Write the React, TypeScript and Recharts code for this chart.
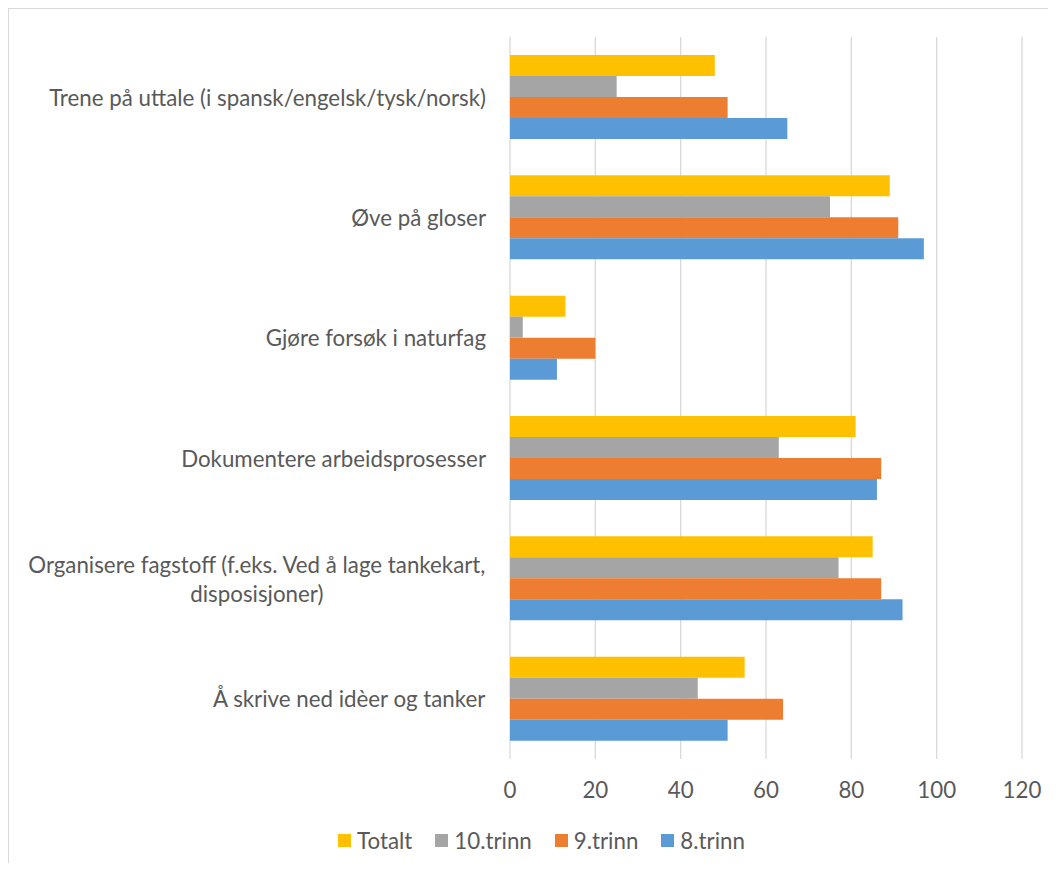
import React from 'react';
import { BarChart, Bar, XAxis, YAxis, CartesianGrid, Legend } from 'recharts';

// Activities (top to bottom) and share of pupils per grade
const categories = [
  'Trene på uttale (i spansk/engelsk/tysk/norsk)',
  'Øve på gloser',
  'Gjøre forsøk i naturfag',
  'Dokumentere arbeidsprosesser',
  'Organisere fagstoff (f.eks. Ved å lage tankekart,\ndisposisjoner)',
  'Å skrive ned idèer og tanker',
];
const totalt = [48, 89, 13, 81, 85, 55];
const trinn10 = [25, 75, 3, 63, 77, 44];
const trinn9 = [51, 91, 20, 87, 87, 64];
const trinn8 = [65, 97, 11, 86, 92, 51];
const xTicks = [0, 20, 40, 60, 80, 100, 120];

const seriesKeys = ['totalt', 'trinn10', 'trinn9', 'trinn8'];
const seriesNames = ['Totalt', '10.trinn', '9.trinn', '8.trinn'];
const seriesColors = ['#FFC000', '#A5A5A5', '#ED7D31', '#5B9BD5'];

const data = categories.map((name, i) => ({
  name,
  totalt: totalt[i],
  trinn10: trinn10[i],
  trinn9: trinn9[i],
  trinn8: trinn8[i],
}));

const FONT = 'Lato, "Noto Sans", sans-serif';
const FONT_SIZE = 22.3;
const TEXT = '#595959';

let ctx: CanvasRenderingContext2D | null = null;
function measure(s: string): number {
  if (!ctx) {
    const c = document.createElement('canvas');
    ctx = c.getContext('2d');
  }
  if (!ctx) return s.length * FONT_SIZE * 0.45;
  ctx.font = `${FONT_SIZE}px Lato, "Noto Sans", sans-serif`;
  return ctx.measureText(s).width;
}

function CategoryTick(props: any) {
  const { x, y, payload } = props;
  const lines = String(payload.value).split('\n');
  const block = Math.max(...lines.map(measure));
  const right = x - 24;
  const cx = right - block / 2;
  const lh = 29;
  const y0 = y - ((lines.length - 1) * lh) / 2;
  return (
    <g>
      {lines.map((l, i) => (
        <text
          key={i}
          x={cx}
          y={y0 + i * lh}
          textAnchor="middle"
          dominantBaseline="central"
          fill={TEXT}
          fontSize={FONT_SIZE}
          fontFamily={FONT}
        >
          {l}
        </text>
      ))}
    </g>
  );
}

function ValueTick(props: any) {
  const { x, y, payload } = props;
  return (
    <text
      x={x}
      y={y + 30}
      textAnchor="middle"
      dominantBaseline="central"
      fill={TEXT}
      fontSize={FONT_SIZE}
      fontFamily={FONT}
    >
      {payload.value}
    </text>
  );
}

// Legend in series order: Totalt, 10.trinn, 9.trinn, 8.trinn
function LegendContent() {
  return (
    <div
      style={{
        display: 'flex',
        justifyContent: 'center',
        alignItems: 'center',
        height: 30,
        paddingLeft: 75,
        fontFamily: FONT,
        fontSize: FONT_SIZE,
        color: TEXT,
      }}
    >
      {seriesNames.map((name, i) => (
        <div key={name} style={{ display: 'flex', alignItems: 'center', marginRight: 23 }}>
          <span
            style={{ display: 'inline-block', width: 13, height: 13, background: seriesColors[i], marginRight: 6 }}
          />
          <span>{name}</span>
        </div>
      ))}
    </div>
  );
}

export default function App() {
  return (
    <div
      style={{
        width: 1048,
        height: 863,
        marginBottom: -8,
        borderTop: '1px solid #d9d9d9',
        borderLeft: '1px solid #d9d9d9',
        boxSizing: 'border-box',
        background: '#fff',
      }}
    >
      <BarChart
        width={1047}
        height={854}
        data={data}
        layout="vertical"
        barGap={0}
        margin={{ top: 28, right: 34, left: 0, bottom: 8 }}
      >
        <CartesianGrid horizontal={false} vertical stroke="#d9d9d9" strokeWidth={1.3} />
        <XAxis
          type="number"
          domain={[0, 120]}
          ticks={xTicks}
          axisLine={false}
          tickLine={false}
          tickSize={0}
          tickMargin={0}
          height={66}
          tick={<ValueTick />}
          interval={0}
        />
        <YAxis
          type="category"
          dataKey="name"
          width={501}
          axisLine={false}
          tickLine={false}
          tickSize={0}
          tickMargin={0}
          tick={<CategoryTick />}
          interval={0}
        />
        <Legend verticalAlign="bottom" content={<LegendContent />} />
        {seriesKeys.map((k, i) => (
          <Bar
            key={k}
            dataKey={k}
            name={seriesNames[i]}
            fill={seriesColors[i]}
            barSize={21}
            isAnimationActive={false}
          />
        ))}
      </BarChart>
    </div>
  );
}
